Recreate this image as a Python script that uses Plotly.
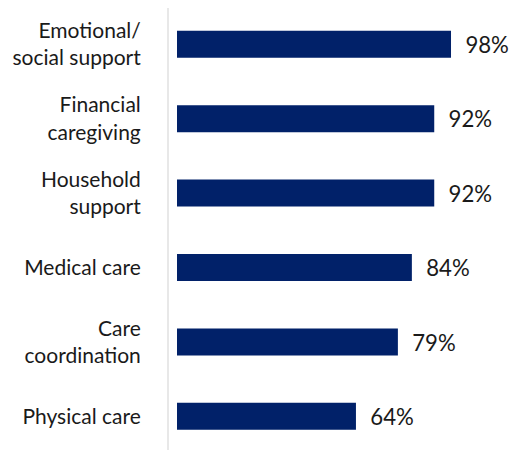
import plotly.graph_objects as go

categories = ["Emotional/<br>social support", "Financial<br>caregiving", "Household<br>support",
              "Medical care", "Care<br>coordination", "Physical care"]
values = [98, 92, 92, 84, 79, 64]
value_labels = ["98%", "92%", "92%", "84%", "79%", "64%"]

FONT = "Lato"

fig = go.Figure(go.Bar(
    x=values, y=categories, orientation="h",
    marker=dict(color="#012169", line=dict(width=0)),
    text=["  " + t for t in value_labels], textposition="outside",
    textfont=dict(family=FONT, size=23, color="#1a1a1a"),
    cliponaxis=False, width=0.363,
))

# page body has an 8px default margin, so the figure is sized/offset to compensate
fig.update_layout(
    template="none",
    width=509, height=442,
    margin=dict(l=161, r=0, t=0, b=0, pad=0, autoexpand=False),
    paper_bgcolor="white", plot_bgcolor="white",
    showlegend=False,
    font=dict(family=FONT, size=21, color="#1a1a1a"),
    xaxis=dict(range=[-2.86, 121.6], visible=False, showgrid=False, zeroline=False,
               automargin=False),
    yaxis=dict(type="category", categoryorder="array", categoryarray=categories,
               range=[5.453, -0.488], showgrid=False, zeroline=False, automargin=False,
               showline=True, linecolor="#e8e8e8", linewidth=2,
               ticks="", ticklabelstandoff=22,
               tickfont=dict(family=FONT, size=21, color="#1a1a1a")),
)

fig.write_html("out.html")
